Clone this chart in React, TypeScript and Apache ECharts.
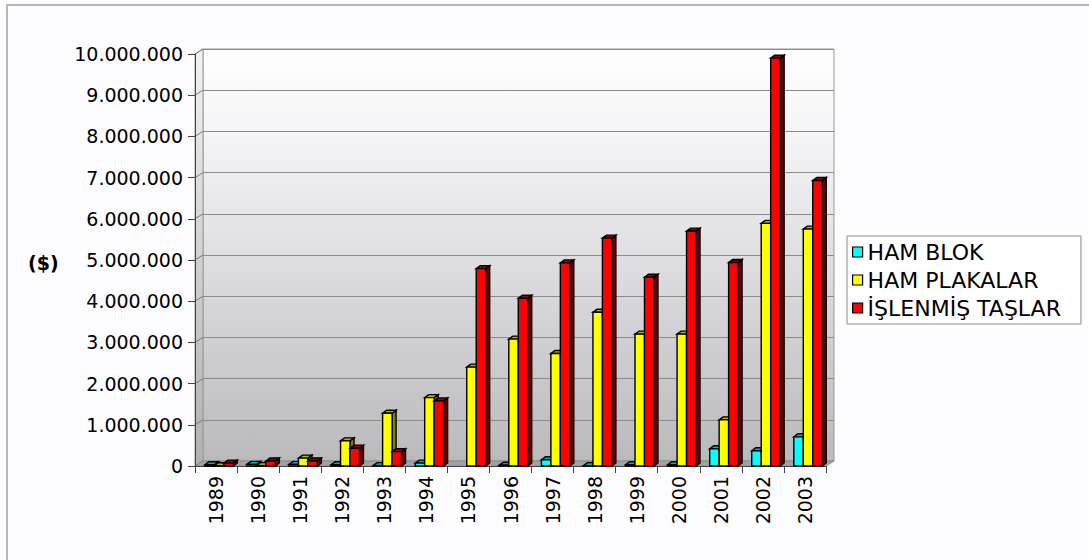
import React, { useEffect, useRef } from "react";
import * as echarts from "echarts";

const years = ["1989", "1990", "1991", "1992", "1993", "1994", "1995", "1996", "1997", "1998", "1999", "2000", "2001", "2002", "2003"];
const hamBlok = [30000, 40000, 40000, 30000, 10000, 70000, 0, 20000, 150000, 8000, 30000, 30000, 420000, 370000, 710000];
const hamPlakalar = [5000, 10000, 190000, 610000, 1280000, 1660000, 2400000, 3080000, 2730000, 3730000, 3200000, 3200000, 1120000, 5890000, 5750000];
const islenmis = [70000, 120000, 120000, 430000, 350000, 1580000, 4790000, 4070000, 4930000, 5530000, 4580000, 5700000, 4940000, 9900000, 6930000];
const seriesNames = ["HAM BLOK", "HAM PLAKALAR", "İŞLENMİŞ TAŞLAR"];
const yMax = 10000000;
const yStep = 1000000;

const FONT = "DejaVu Sans";
const G = { left: 195, top: 54, width: 631, height: 412 };
const D = { dx: 8, dy: -5 };

const palettes = [
  { front: "#00ffff", side: "#007f80", top: "#00b3b3" },
  { front: "#ffff00", side: "#7f7f00", top: "#b3b300" },
  { front: "#ff0000", side: "#6a0000", top: "#9a0000" },
];

function fmt(v: number) {
  return String(v).replace(/\B(?=(\d{3})+(?!\d))/g, ".");
}

function makeRender(k: number) {
  const p = palettes[k];
  return (params: any, api: any) => {
    const idx = api.value(0);
    const v = api.value(1);
    if (!v) return null;
    const base = api.coord([idx, 0]);
    const topP = api.coord([idx, v]);
    const band = api.size([1, 0])[0];
    const w = band * 0.225;
    const x0 = base[0] - band * 0.265 + k * w;
    const x1 = x0 + w;
    const yT = topP[1];
    const yB = base[1];
    const dx = 4;
    const dy = -3;
    return {
      type: "group",
      children: [
        {
          type: "polygon",
          shape: { points: [[x1, yT], [x1 + dx, yT + dy], [x1 + dx, yB + dy], [x1, yB]] },
          style: { fill: p.side, stroke: "#000", lineWidth: 1.4 },
        },
        {
          type: "polygon",
          shape: { points: [[x0, yT], [x0 + dx, yT + dy], [x1 + dx, yT + dy], [x1, yT]] },
          style: { fill: p.top, stroke: "#000", lineWidth: 1.4 },
        },
        {
          type: "rect",
          shape: { x: x0, y: yT, width: w, height: yB - yT },
          style: { fill: p.front, stroke: "#000", lineWidth: 1.4 },
        },
      ],
    };
  };
}

export default function App() {
  const ref = useRef<HTMLDivElement>(null);
  useEffect(() => {
    if (!ref.current) return;
    const chart = echarts.init(ref.current, undefined, { renderer: "svg" });
    const dataSets = [hamBlok, hamPlakalar, islenmis];

    const wallGrad = new echarts.graphic.LinearGradient(0, 0, 0, 1, [
      { offset: 0, color: "#ffffff" },
      { offset: 0.22, color: "#f4f3f6" },
      { offset: 1, color: "#bab9bc" },
    ]);
    const sideGrad = new echarts.graphic.LinearGradient(0, 0, 0, 1, [
      { offset: 0, color: "#f2f2f2" },
      { offset: 1, color: "#b0b0b0" },
    ]);

    const sideTicks: any[] = [];
    for (let v = 0; v <= yMax; v += yStep) {
      const y = G.top + G.height * (1 - v / yMax);
      sideTicks.push({
        type: "line",
        z: 1,
        shape: { x1: G.left, y1: y, x2: G.left + D.dx, y2: y + D.dy },
        style: { stroke: "#777", lineWidth: 1 },
      });
    }

    const option: any = {
      animation: false,
      backgroundColor: "#fdfcfe",
      grid: [
        { left: G.left, top: G.top, width: G.width, height: G.height, containLabel: false },
        {
          left: G.left + D.dx,
          top: G.top + D.dy,
          width: G.width,
          height: G.height,
          show: true,
          backgroundColor: wallGrad,
          borderColor: "#9a9a9a",
          borderWidth: 1,
        },
      ],
      xAxis: [
        {
          type: "category",
          gridIndex: 0,
          data: years,
          z: 3,
          axisLine: { show: true, lineStyle: { color: "#444", width: 1 } },
          axisTick: { show: true, length: 7, alignWithLabel: false, lineStyle: { color: "#444" } },
          axisLabel: { rotate: 90, margin: 10, color: "#000", fontFamily: FONT, fontSize: 19, interval: 0 },
          splitLine: { show: false },
        },
        {
          type: "category",
          gridIndex: 1,
          data: years,
          show: false,
        },
      ],
      yAxis: [
        {
          type: "value",
          gridIndex: 0,
          min: 0,
          max: yMax,
          interval: yStep,
          z: 3,
          axisLine: { show: true, lineStyle: { color: "#444", width: 1 } },
          axisTick: { show: true, length: 7, lineStyle: { color: "#444" } },
          axisLabel: { margin: 12, color: "#000", fontFamily: FONT, fontSize: 19, formatter: (v: number) => fmt(v) },
          splitLine: { show: false },
        },
        {
          type: "value",
          gridIndex: 1,
          min: 0,
          max: yMax,
          interval: yStep,
          axisLine: { show: false },
          axisTick: { show: false },
          axisLabel: { show: false },
          splitLine: { show: true, lineStyle: { color: "#8a8a8a", width: 1 } },
        },
      ],
      legend: {
        orient: "vertical",
        left: 847,
        top: 236,
        padding: [5, 20, 5, 5],
        itemGap: 6,
        itemWidth: 10,
        itemHeight: 10,
        borderColor: "#8a8a8a",
        borderWidth: 1,
        backgroundColor: "#ffffff",
        textStyle: { fontFamily: FONT, fontSize: 22, color: "#000" },
        data: seriesNames.map((n, k) => ({
          name: n,
          icon: "rect",
          itemStyle: { color: palettes[k].front, borderColor: "#000", borderWidth: 1.2 },
        })),
      },
      graphic: [
        {
          type: "rect",
          z: 0,
          shape: { x: 7, y: 5, width: 1090, height: 560 },
          style: { fill: "none", stroke: "#a0a0a0", lineWidth: 1.5 },
        },
        {
          type: "polygon",
          z: 1,
          shape: {
            points: [
              [G.left, G.top],
              [G.left + D.dx, G.top + D.dy],
              [G.left + D.dx, G.top + G.height + D.dy],
              [G.left, G.top + G.height],
            ],
          },
          style: { fill: sideGrad, stroke: "#999", lineWidth: 1 },
        },
        ...sideTicks,
        {
          type: "polygon",
          z: 1,
          shape: {
            points: [
              [G.left, G.top + G.height],
              [G.left + G.width, G.top + G.height],
              [G.left + G.width + D.dx, G.top + G.height + D.dy],
              [G.left + D.dx, G.top + G.height + D.dy],
            ],
          },
          style: { fill: "#a3a3a3", stroke: "#8a8a8a", lineWidth: 1 },
        },
        {
          type: "text",
          z: 5,
          left: 28,
          top: 253,
          style: { text: "($)", fill: "#000", font: `bold 19px '${FONT}'` },
        },
      ],
      series: dataSets.map((arr, k) => ({
        type: "custom",
        name: seriesNames[k],
        xAxisIndex: 0,
        yAxisIndex: 0,
        z: 4,
        itemStyle: { color: palettes[k].front },
        encode: { x: 0, y: 1 },
        data: arr.map((v, i) => [i, v]),
        renderItem: makeRender(k),
      })),
    };
    chart.setOption(option);
    return () => chart.dispose();
  }, []);
  return <div ref={ref} style={{ position: "fixed", left: 0, top: 0, width: 1089, height: 560 }} />;
}
